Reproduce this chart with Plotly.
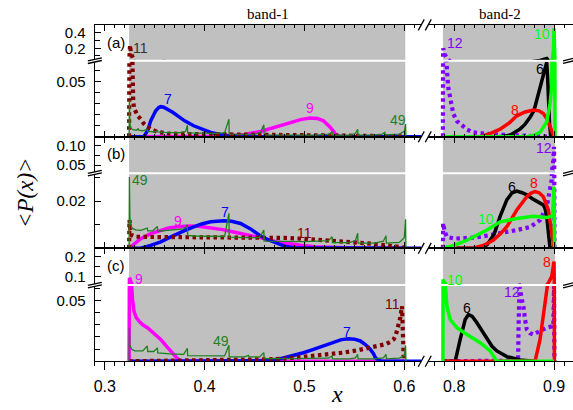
import plotly.graph_objects as go

# ---------------------------------------------------------------
# Band-1 curves
# ---------------------------------------------------------------
# panel (a)
A9_X = [0.3243, 0.41, 0.42, 0.43, 0.44, 0.456, 0.47, 0.48, 0.489, 0.497, 0.506, 0.513, 0.519, 0.523, 0.526, 0.529, 0.531, 0.534, 0.54, 0.60]
A9_Y = [0, 0, 0.0005, 0.0012, 0.0022, 0.0048, 0.0085, 0.0112, 0.0139, 0.0158, 0.0170, 0.0166, 0.0145, 0.0115, 0.0085, 0.005, 0.0025, 0.0008, 0, 0]

A7_X = [0.3243, 0.335, 0.339, 0.343, 0.346, 0.349, 0.351, 0.354, 0.356, 0.359, 0.363, 0.368, 0.373, 0.380, 0.389, 0.397, 0.406, 0.413, 0.419, 0.427, 0.44, 0.617]
A7_Y = [0, 0, 0, 0.006, 0.0145, 0.020, 0.0236, 0.0265, 0.0273, 0.0268, 0.0250, 0.0222, 0.019, 0.0145, 0.010, 0.0068, 0.004, 0.0025, 0.0015, 0.0006, 0, 0]

A11_X = [0.3243, 0.3247, 0.3253, 0.326, 0.3268, 0.3276, 0.3284, 0.3292, 0.331, 0.333, 0.336, 0.339, 0.3427, 0.347, 0.3527, 0.3627, 0.38, 0.42, 0.46, 0.50, 0.55, 0.60]
A11_Y = [0, 0.17, 0.24, 0.15, 0.085, 0.055, 0.034, 0.026, 0.022, 0.019, 0.016, 0.012, 0.009, 0.0065, 0.0045, 0.003, 0.0026, 0.0023, 0.0018, 0.0012, 0.0008, 0.0005]

A49_X = [0.3243, 0.3246, 0.3252, 0.326, 0.328, 0.332, 0.3335, 0.334, 0.338, 0.3425, 0.343, 0.345, 0.350, 0.3527, 0.353, 0.36, 0.375,
         0.381, 0.3827, 0.383, 0.39, 0.41, 0.420, 0.4243, 0.4246, 0.43, 0.45, 0.456, 0.4593, 0.4596, 0.48, 0.51, 0.525, 0.5277,
         0.528, 0.545, 0.551, 0.5533, 0.5536, 0.57, 0.578, 0.5805, 0.581, 0.595, 0.600, 0.6013, 0.6016]
A49_Y = [0, 0.033, 0.012, 0.008, 0.0065, 0.006, 0.0075, 0.006, 0.0055, 0.0068, 0.005, 0.0048, 0.0045, 0.0058, 0.0045, 0.004, 0.0037,
         0.005, 0.0105, 0.0036, 0.0034, 0.0032, 0.0036, 0.016, 0.0025, 0.0023, 0.0022, 0.004, 0.011, 0.0018, 0.0016, 0.0016, 0.0025, 0.0045,
         0.0015, 0.0016, 0.003, 0.0068, 0.0016, 0.0017, 0.0025, 0.004, 0.0018, 0.0025, 0.005, 0.0115, 0]

# panel (b)
B9_X = [0.3243, 0.330, 0.336, 0.346, 0.356, 0.364, 0.3727, 0.386, 0.396, 0.406, 0.418, 0.429, 0.443, 0.456, 0.4727, 0.485, 0.496, 0.51, 0.53, 0.55, 0.60]
B9_Y = [0, 0.0022, 0.0041, 0.0062, 0.0077, 0.0086, 0.0091, 0.0094, 0.0092, 0.0087, 0.0079, 0.0069, 0.0057, 0.0045, 0.0027, 0.0018, 0.0013, 0.0007, 0.0003, 0.0001, 0]

B7_X = [0.3243, 0.336, 0.346, 0.356, 0.364, 0.3727, 0.381, 0.389, 0.397, 0.406, 0.413, 0.4193, 0.427, 0.436, 0.446, 0.456, 0.464, 0.4727, 0.48, 0.49, 0.617]
B7_Y = [0, 0, 0.0012, 0.0027, 0.0044, 0.0062, 0.0077, 0.0091, 0.0103, 0.0112, 0.0116, 0.0117, 0.0114, 0.0105, 0.0082, 0.0052, 0.0035, 0.002, 0.0009, 0.0002, 0]

B11_X = [0.3243, 0.3247, 0.3255, 0.327, 0.330, 0.34, 0.36, 0.40, 0.44, 0.46, 0.48, 0.50, 0.52, 0.54, 0.56, 0.575, 0.59, 0.60]
B11_Y = [0, 0.012, 0.008, 0.0055, 0.0049, 0.0048, 0.0048, 0.0048, 0.0048, 0.0047, 0.0044, 0.004, 0.0035, 0.0029, 0.0022, 0.0016, 0.0008, 0.0003]

B49_X = [0.3243, 0.3246, 0.3252, 0.327, 0.331, 0.336, 0.3425, 0.343, 0.348, 0.3527, 0.353, 0.36, 0.37, 0.379, 0.3827, 0.383,
         0.39, 0.41, 0.420, 0.4243, 0.4246, 0.44, 0.455, 0.4593, 0.4596, 0.48, 0.50, 0.524, 0.5277, 0.528, 0.545, 0.551,
         0.5533, 0.5536, 0.57, 0.579, 0.5817, 0.582, 0.595, 0.600, 0.6013, 0.6016]
B49_Y = [0, 0.0302, 0.012, 0.0085, 0.0078, 0.0076, 0.0085, 0.0074, 0.0074, 0.0092, 0.0072, 0.0075, 0.0078, 0.0082, 0.0099, 0.0055,
         0.0052, 0.005, 0.005, 0.0148, 0.0047, 0.0045, 0.0045, 0.0077, 0.003, 0.0029, 0.0028, 0.0032, 0.0049, 0.0024, 0.0024, 0.0032,
         0.0064, 0.0022, 0.0022, 0.003, 0.0053, 0.0022, 0.0025, 0.0045, 0.0123, 0]

# panel (c)
C9_X = [0.3243, 0.3247, 0.3252, 0.326, 0.3268, 0.3277, 0.3293, 0.3315, 0.3343, 0.338, 0.3427, 0.349, 0.356, 0.361, 0.366, 0.369, 0.371, 0.374, 0.377, 0.40, 0.60]
C9_Y = [0, 0.093, 0.09, 0.075, 0.062, 0.051, 0.041, 0.036, 0.033, 0.030, 0.0276, 0.023, 0.018, 0.013, 0.0085, 0.0055, 0.003, 0.001, 0, 0, 0]

C7_X = [0.3243, 0.44, 0.46, 0.475, 0.489, 0.499, 0.509, 0.519, 0.529, 0.537, 0.5443, 0.550, 0.556, 0.561, 0.566, 0.569, 0.571, 0.574, 0.577, 0.617]
C7_Y = [0, 0, 0.0005, 0.0018, 0.0044, 0.007, 0.0098, 0.0128, 0.0158, 0.0178, 0.0186, 0.0182, 0.0167, 0.0138, 0.0098, 0.0065, 0.003, 0.001, 0, 0]

C11_X = [0.3243, 0.36, 0.40, 0.44, 0.47, 0.489, 0.509, 0.525, 0.539, 0.553, 0.566, 0.575, 0.581, 0.586, 0.5893, 0.5915, 0.5935, 0.596, 0.5977, 0.5986, 0.5995]
C11_Y = [0, 0.0003, 0.0005, 0.001, 0.0017, 0.0028, 0.0044, 0.0058, 0.0071, 0.009, 0.0112, 0.0125, 0.014, 0.016, 0.018, 0.0215, 0.027, 0.036, 0.0453, 0.03, 0]

C49_X = [0.3243, 0.3246, 0.3252, 0.327, 0.330, 0.338, 0.3425, 0.343, 0.349, 0.3527, 0.353, 0.365, 0.379, 0.3827, 0.383,
         0.40, 0.420, 0.4243, 0.4246, 0.44, 0.444, 0.4445, 0.455, 0.4593, 0.4596, 0.48, 0.50, 0.524, 0.5277, 0.528, 0.545,
         0.551, 0.5533, 0.5536, 0.57, 0.579, 0.5817, 0.582, 0.595, 0.600, 0.6013, 0.6016]
C49_Y = [0, 0.0276, 0.013, 0.0098, 0.0085, 0.0085, 0.0126, 0.008, 0.008, 0.011, 0.0068, 0.006, 0.0057, 0.0107, 0.0046,
         0.0044, 0.0044, 0.0131, 0.0037, 0.0036, 0.0049, 0.0036, 0.0036, 0.0071, 0.0022, 0.0022, 0.0022, 0.0025, 0.0044, 0.002, 0.002,
         0.0028, 0.0057, 0.002, 0.002, 0.0028, 0.0057, 0.002, 0.0025, 0.0045, 0.013, 0]

# ---------------------------------------------------------------
# Band-2 curves
# ---------------------------------------------------------------
# panel (a)
A12_X = [0.7887, 0.789, 0.7905, 0.792, 0.794, 0.796, 0.799, 0.803, 0.808, 0.813, 0.819, 0.826, 0.836, 0.85, 0.87, 0.89, 0.9, 0.9005]
A12_Y = [0, 0.2, 0.12, 0.07, 0.045, 0.035, 0.021, 0.014, 0.010, 0.0065, 0.004, 0.003, 0.0024, 0.0018, 0.0012, 0.0008, 0.0005, 0]

A6_X = [0.7887, 0.845, 0.856, 0.861, 0.866, 0.871, 0.876, 0.880, 0.8827, 0.886, 0.8893, 0.891, 0.8927, 0.8935, 0.8943, 0.8955, 0.8967, 0.901]
A6_Y = [0, 0, 0.0015, 0.004, 0.007, 0.0115, 0.0176, 0.024, 0.0327, 0.043, 0.054, 0.062, 0.0675, 0.055, 0.033, 0.012, 0, 0]

A8_X = [0.7887, 0.826, 0.836, 0.846, 0.855, 0.8627, 0.871, 0.8793, 0.885, 0.8893, 0.893, 0.896, 0.898, 0.9, 0.901]
A8_Y = [0, 0, 0.003, 0.007, 0.0125, 0.019, 0.0225, 0.0242, 0.0235, 0.021, 0.016, 0.010, 0.005, 0, 0]

A10_X = [0.7887, 0.8727, 0.880, 0.886, 0.8927, 0.896, 0.8977, 0.8987, 0.8995, 0.9, 0.9006, 0.901]
A10_Y = [0, 0, 0.0015, 0.004, 0.0135, 0.03, 0.045, 0.08, 0.2, 0.46, 0, 0]

# panel (b)
B12_X = [0.7887, 0.7889, 0.7905, 0.7927, 0.80, 0.8107, 0.82, 0.8293, 0.846, 0.8627, 0.876, 0.886, 0.8927, 0.8955, 0.8977, 0.8993, 0.9, 0.9004]
B12_Y = [0, 0.0106, 0.007, 0.0048, 0.0041, 0.0041, 0.0045, 0.0051, 0.0062, 0.0077, 0.009, 0.0119, 0.0176, 0.023, 0.029, 0.0625, 0.096, 0]

B6_X = [0.7887, 0.826, 0.833, 0.84, 0.846, 0.8527, 0.858, 0.8627, 0.868, 0.8727, 0.8783, 0.8827, 0.8865, 0.8893, 0.891, 0.8927, 0.8943, 0.896, 0.901]
B6_Y = [0, 0, 0.0015, 0.006, 0.0135, 0.0205, 0.0235, 0.0242, 0.0235, 0.0226, 0.021, 0.0197, 0.019, 0.0183, 0.017, 0.0133, 0.0048, 0, 0]

B8_X = [0.7887, 0.819, 0.829, 0.839, 0.846, 0.8527, 0.8627, 0.8727, 0.877, 0.881, 0.885, 0.8893, 0.8943, 0.8977, 0.9, 0.901]
B8_Y = [0, 0, 0.0012, 0.0034, 0.006, 0.0091, 0.0162, 0.0218, 0.0234, 0.024, 0.0235, 0.0218, 0.0162, 0.0077, 0, 0]

B10_X = [0.7887, 0.80, 0.8127, 0.8227, 0.8327, 0.846, 0.8627, 0.8793, 0.8927, 0.8985, 0.8997, 0.9, 0.9005]
B10_Y = [0, 0.0012, 0.0034, 0.0055, 0.0077, 0.0112, 0.0126, 0.0136, 0.013, 0.0137, 0.02, 0.026, 0]

# panel (c)
C12_X = [0.7887, 0.80, 0.84, 0.864, 0.8645, 0.8655, 0.8675, 0.8693, 0.871, 0.8727, 0.876, 0.8793, 0.886, 0.8927, 0.8993, 0.8997, 0.9, 0.9004]
C12_Y = [0, 0.0002, 0.0003, 0.0005, 0.03, 0.061, 0.052, 0.0453, 0.0344, 0.0262, 0.023, 0.022, 0.0249, 0.0276, 0.029, 0.045, 0.062, 0]

C6_X = [0.7887, 0.801, 0.806, 0.811, 0.8143, 0.818, 0.8227, 0.8277, 0.8327, 0.8377, 0.8427, 0.8527, 0.866, 0.88]
C6_Y = [0, 0, 0.018, 0.0344, 0.0385, 0.037, 0.0317, 0.025, 0.018, 0.0125, 0.0085, 0.0038, 0.001, 0]

C8_X = [0.7887, 0.881, 0.886, 0.8893, 0.8927, 0.8943, 0.8977, 0.9, 0.9004]
C8_Y = [0, 0, 0.018, 0.0372, 0.056, 0.068, 0.1015, 0.1765, 0]

C10_X = [0.7887, 0.7889, 0.7905, 0.7927, 0.796, 0.8027, 0.8127, 0.826, 0.836, 0.8427, 0.85, 0.9]
C10_Y = [0, 0.085, 0.07, 0.0453, 0.0344, 0.0276, 0.022, 0.0153, 0.0085, 0, 0, 0]

# ---------------------------------------------------------------
# styles
# ---------------------------------------------------------------
COLORS = {'11': '#800000', '7': '#0000ff', '9': '#ff00ff', '49': '#1f7f1f',
          '12': '#8000ff', '6': '#000000', '8': '#ff0000', '10': '#00ff00'}
THICK = dict(width=3.5)
THIN = dict(width=1.3)
DOTTED = dict(width=4.2, dash='3.5px,3.5px')
STYLE = {'11': DOTTED, '12': DOTTED, '49': THIN}

# (panel, band, curve name, x, y) in drawing order
SERIES = [
    ('a', 0, '9', A9_X, A9_Y), ('a', 0, '7', A7_X, A7_Y), ('a', 0, '11', A11_X, A11_Y), ('a', 0, '49', A49_X, A49_Y),
    ('b', 0, '9', B9_X, B9_Y), ('b', 0, '7', B7_X, B7_Y), ('b', 0, '11', B11_X, B11_Y), ('b', 0, '49', B49_X, B49_Y),
    ('c', 0, '9', C9_X, C9_Y), ('c', 0, '7', C7_X, C7_Y), ('c', 0, '11', C11_X, C11_Y), ('c', 0, '49', C49_X, C49_Y),
    ('a', 1, '12', A12_X, A12_Y), ('a', 1, '6', A6_X, A6_Y), ('a', 1, '8', A8_X, A8_Y), ('a', 1, '10', A10_X, A10_Y),
    ('b', 1, '12', B12_X, B12_Y), ('b', 1, '6', B6_X, B6_Y), ('b', 1, '8', B8_X, B8_Y), ('b', 1, '10', B10_X, B10_Y),
    ('c', 1, '12', C12_X, C12_Y), ('c', 1, '6', C6_X, C6_Y), ('c', 1, '8', C8_X, C8_Y), ('c', 1, '10', C10_X, C10_Y),
]

# ---------------------------------------------------------------
# layout geometry (pixels of a 573 x 410 canvas)
# ---------------------------------------------------------------
W, H = 573, 410
X_RANGES = [[0.29, 0.617], [0.774, 0.919]]
BAND_EDGES = [[0.3243, 0.601], [0.7887, 0.901]]
COL_PX = [(94, 421), (428, 573)]
PANELS = ['a', 'b', 'c']
ROW_PX = {'a': ((24, 59), (61, 136.5)),
          'b': ((136.5, 172), (174, 248.5)),
          'c': ((248.5, 284.5), (286.5, 362))}
Y_RANGES = {'a': ([0.0516, 0.503], [0, 0.068]),
            'b': ([0.0325, 0.1213], [0, 0.03137]),
            'c': ([0.0625, 0.2425], [0, 0.0619])}
# (tick values, tick text, minor step) for upper and lower parts
Y_TICKS = {'a': (([0.2, 0.4], ['0.2', '0.4'], 0.1), ([0.05], ['0.05'], 0.01)),
           'b': (([0.05, 0.10], ['0.05', '0.10'], 0.025), ([0.02], ['0.02'], 0.01)),
           'c': (([0.1, 0.2], ['0.1', '0.2'], 0.05), ([0.05], ['0.05'], 0.01))}

TICK_FONT = dict(family='Liberation Sans, Arial, sans-serif', size=15, color='black')
SERIF = 'Liberation Serif, Times New Roman, serif'


def fx(px):
    return px / W


def fy(py):
    return 1 - py / H


def sub_index(panel, part, col):
    return PANELS.index(panel) * 4 + part * 2 + col + 1


def ax_suffix(k):
    return '' if k == 1 else str(k)


fig = go.Figure()
layout = dict(width=W, height=H, margin=dict(l=0, r=0, t=0, b=0),
              plot_bgcolor='white', paper_bgcolor='white', showlegend=False)
shapes = []

for panel in PANELS:
    for part in (0, 1):
        top_px, bot_px = ROW_PX[panel][part]
        for col in (0, 1):
            k = sub_index(panel, part, col)
            s = ax_suffix(k)
            bottom_axis = (panel == 'c' and part == 1)
            xa = dict(domain=[fx(COL_PX[col][0]), fx(COL_PX[col][1])], range=X_RANGES[col],
                      anchor='y' + s, showgrid=False, zeroline=False,
                      showline=True, linecolor='black', linewidth=1.3,
                      tickmode='linear', tick0=0, dtick=0.1, tickcolor='black', tickwidth=1,
                      side='top' if part == 0 else 'bottom')
            if bottom_axis:
                xa.update(ticks='outside', ticklen=8, showticklabels=True, tickformat='.1f',
                          tickfont=dict(TICK_FONT, size=16), ticklabelstandoff=2,
                          minor=dict(ticks='outside', ticklen=4, tick0=0, dtick=0.01,
                                     tickcolor='black', tickwidth=1))
            else:
                xa.update(ticks='inside', ticklen=6, showticklabels=False,
                          minor=dict(ticks='inside', ticklen=3, tick0=0, dtick=0.01,
                                     tickcolor='black', tickwidth=1))
            layout['xaxis' + s] = xa

            ya = dict(domain=[fy(bot_px), fy(top_px)], range=Y_RANGES[panel][part],
                      anchor='x' + s, showgrid=False, zeroline=False)
            if col == 0:
                vals, texts, mstep = Y_TICKS[panel][part]
                ya.update(showline=True, linecolor='black', linewidth=1.3,
                          ticks='inside', ticklen=6, tickcolor='black', tickwidth=1,
                          tickmode='array', tickvals=vals, ticktext=texts,
                          tickfont=TICK_FONT, ticklabelstandoff=5,
                          minor=dict(ticks='inside', ticklen=5, tick0=0, dtick=mstep,
                                     tickcolor='black', tickwidth=1))
            else:
                ya.update(showline=False, ticks='', showticklabels=False)
            layout['yaxis' + s] = ya

            # grey band region
            shapes.append(dict(type='rect', xref='x' + s, yref='y' + s + ' domain',
                               x0=BAND_EDGES[col][0], x1=BAND_EDGES[col][1], y0=0, y1=1,
                               fillcolor='#c0c0c0', line=dict(width=0), layer='below'))

# curves: every series drawn in both the upper and lower part of its panel
for panel, col, name, xs, ys in SERIES:
    style = STYLE.get(name, THICK)
    for part in (0, 1):
        s = ax_suffix(sub_index(panel, part, col))
        fig.add_trace(go.Scatter(x=xs, y=ys, mode='lines',
                                 line=dict(color=COLORS[name], **style),
                                 xaxis='x' + s, yaxis='y' + s, hoverinfo='skip'))

# axis break marks
BREAK = dict(color='black', width=1.3)
for y in (24, 136.5, 248.5, 362):
    for x in (421, 428):
        shapes.append(dict(type='line', xref='paper', yref='paper',
                           x0=fx(x - 3), y0=fy(y + 5.5), x1=fx(x + 3), y1=fy(y - 5.5), line=BREAK))
for panel in PANELS:
    gap = (ROW_PX[panel][0][1] + ROW_PX[panel][1][0]) / 2
    for x0, x1 in ((87, 101), (563, 575)):
        for dy in (-1.3, 1.3):
            shapes.append(dict(type='line', xref='paper', yref='paper',
                               x0=fx(x0), y0=fy(gap + dy + 1.5), x1=fx(x1), y1=fy(gap + dy - 1.5),
                               line=BREAK))
layout['shapes'] = shapes

# text: curve labels, panel tags, band titles, axis titles
LABEL_FONT = 'Liberation Sans, Arial, sans-serif'
CURVE_LABELS = [
    ('11', '#333333', 140, 47), ('7', COLORS['7'], 167, 98), ('9', COLORS['9'], 310, 108), ('49', COLORS['49'], 398, 120),
    ('12', COLORS['12'], 455, 42), ('10', COLORS['10'], 542, 33), ('6', COLORS['6'], 540, 68), ('8', COLORS['8'], 515, 110),
    ('49', COLORS['49'], 139, 180), ('9', COLORS['9'], 177, 221), ('7', COLORS['7'], 224, 212), ('11', COLORS['11'], 304, 233),
    ('12', COLORS['12'], 544, 148), ('6', COLORS['6'], 512, 187), ('8', COLORS['8'], 534, 183), ('10', COLORS['10'], 486, 219),
    ('9', COLORS['9'], 138, 279), ('49', COLORS['49'], 220, 342), ('7', COLORS['7'], 347, 333), ('11', COLORS['11'], 392, 304),
    ('10', COLORS['10'], 455, 280), ('6', COLORS['6'], 467, 309), ('12', COLORS['12'], 512, 292), ('8', COLORS['8'], 547, 262),
]
annotations = []
for text, color, x, y in CURVE_LABELS:
    annotations.append(dict(text=text, x=fx(x), y=fy(y), xref='paper', yref='paper',
                            showarrow=False, xanchor='center', yanchor='middle',
                            font=dict(family=LABEL_FONT, size=14, color=color)))
for tag, y in (('(a)', 42), ('(b)', 153), ('(c)', 266)):
    annotations.append(dict(text=tag, x=fx(115), y=fy(y), xref='paper', yref='paper',
                            showarrow=False, xanchor='center', yanchor='middle',
                            font=dict(family=LABEL_FONT, size=15, color='black')))
for text, x in (('band-1', 267), ('band-2', 500)):
    annotations.append(dict(text=text, x=fx(x), y=fy(13), xref='paper', yref='paper',
                            showarrow=False, xanchor='center', yanchor='middle',
                            font=dict(family=SERIF, size=15, color='black')))
annotations.append(dict(text='<i>x</i>', x=fx(337), y=fy(395), xref='paper', yref='paper',
                        showarrow=False, xanchor='center', yanchor='middle',
                        font=dict(family=SERIF, size=24, color='black')))
annotations.append(dict(text='<i>&lt;P(x)&gt;</i>', x=fx(24), y=fy(192), xref='paper', yref='paper',
                        showarrow=False, xanchor='center', yanchor='middle', textangle=-90,
                        font=dict(family=SERIF, size=23, color='black')))
layout['annotations'] = annotations

fig.update_layout(**layout)
fig.write_html('out.html')
